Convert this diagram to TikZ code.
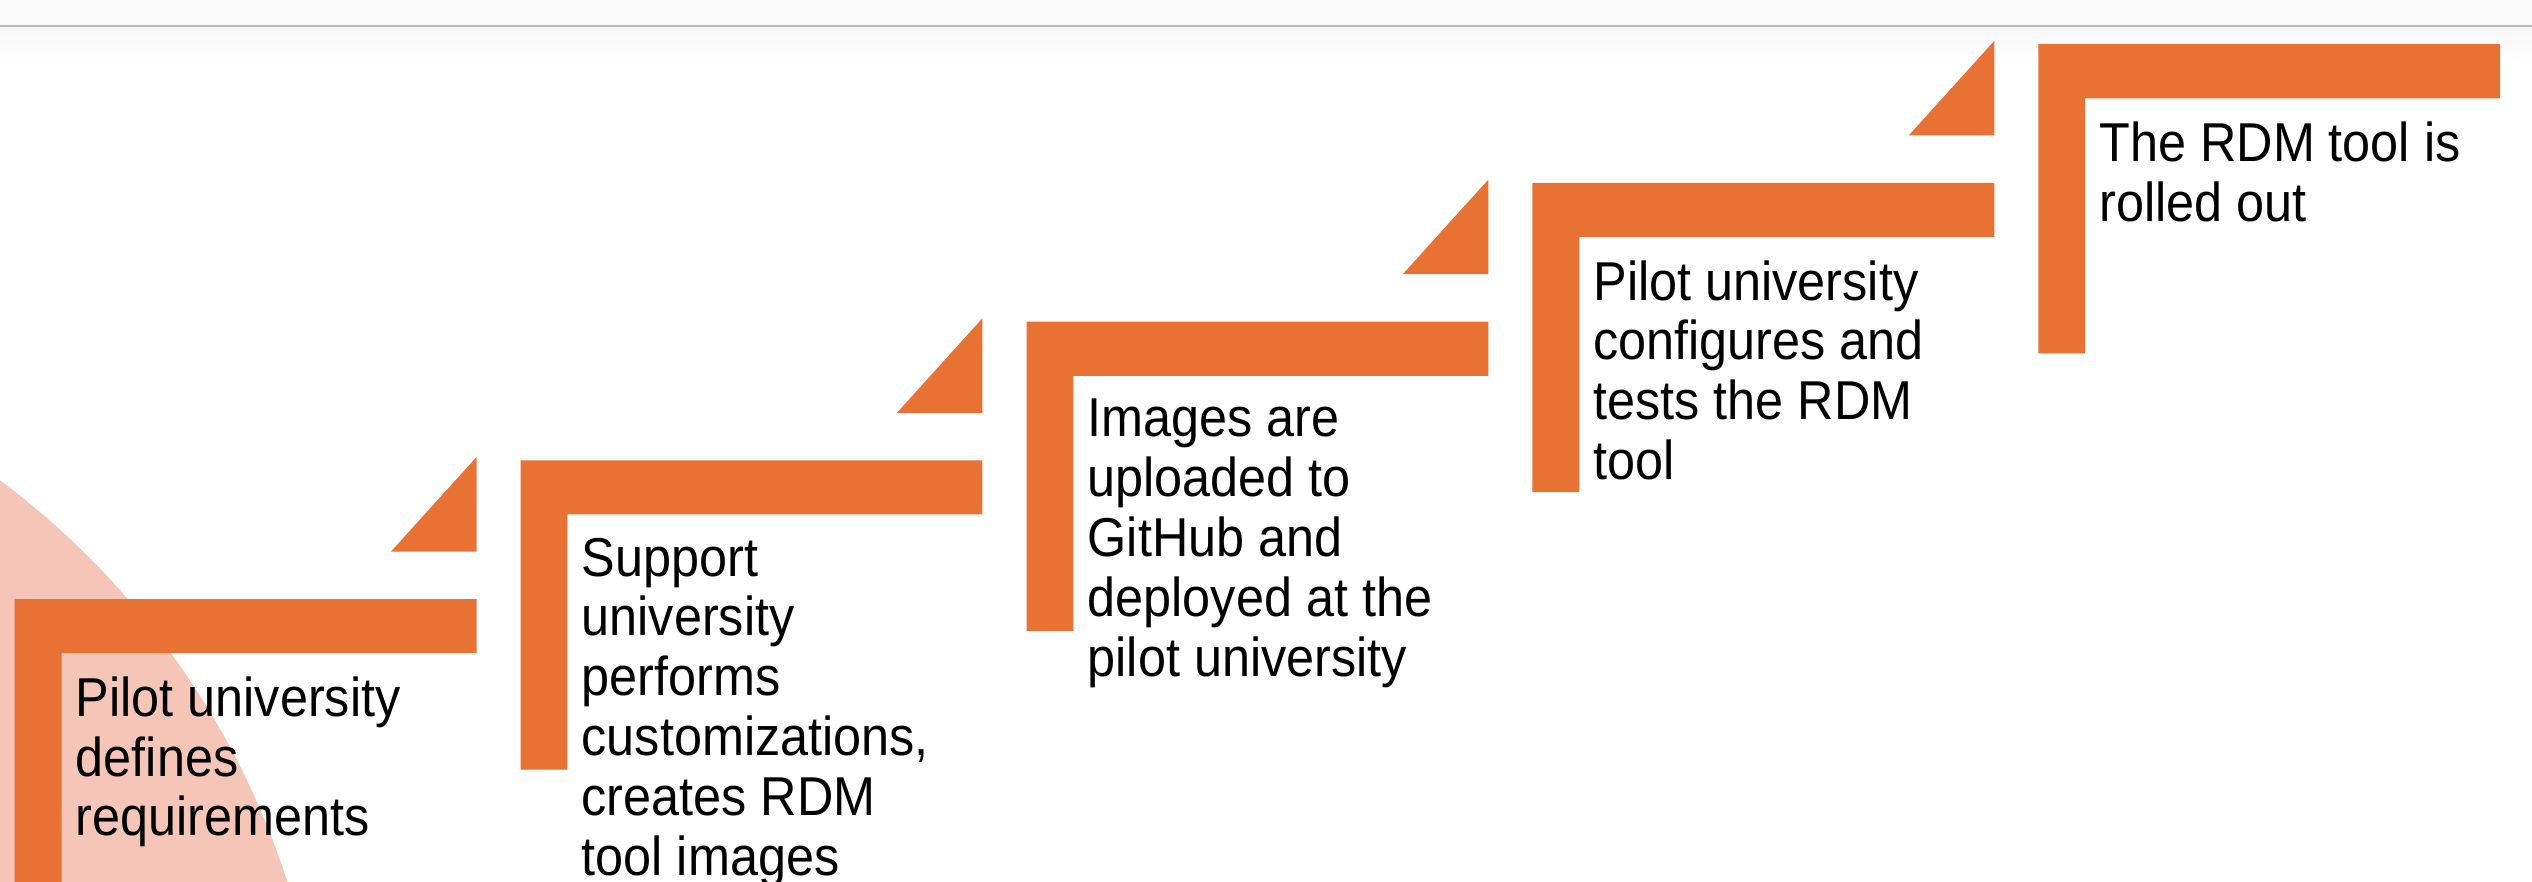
\documentclass[tikz,border=0pt]{standalone}
\usepackage{fontspec}
\setmainfont{Liberation Sans}[FakeStretch=0.92]
\usepackage{xcolor}
\usetikzlibrary{positioning}
\definecolor{steporange}{RGB}{232,114,52}
\definecolor{circlepink}{RGB}{245,197,184}
\tikzset{
  steptext/.style={anchor=north west, align=left, inner sep=0pt,
    font=\fontsize{19.3}{21.1}\selectfont},
}

\begin{document}
\begin{tikzpicture}[x=0.02cm, y=-0.02cm]
            \useasboundingbox (0,0) rectangle (1568,546);
            \clip (0,0) rectangle (1568,546);

            % the header strip
            \fill[gray!4] (0,0) rectangle (1568,16);
            \shade[top color=gray!7, bottom color=white] (0,16) rectangle (1568,38);
            \draw[gray!55, line width=0.03cm] (0,16) -- (1568,16);

            % the circle
            \fill[circlepink] (-300,700) circle [radius=502];

            % the steps
            \foreach \i/\txt in {1/{Pilot university\\defines\\requirements},
                                 2/{Support\\university\\performs\\customizations,\\creates RDM\\tool images},
                                 3/{Images are\\uploaded to\\GitHub and\\deployed at the\\pilot university},
                                 4/{Pilot university\\configures and\\tests the RDM\\tool},
                                 5/{The RDM tool is\\rolled out}} {
              \pgfmathsetmacro\xo{9.1+313.3*(\i-1)}
              \pgfmathsetmacro\yo{371-85.9*(\i-1)}
              \fill[steporange] (\xo,\yo) -- ++(286,0) -- ++(0,33.5) -- ++(-257,0)
                -- ++(0,158) -- ++(-29,0) -- cycle;
              \ifnum\i<5
                \fill[steporange] (\xo+286,\yo-88) -- (\xo+286,\yo-29.4) -- (\xo+233,\yo-29.4) -- cycle;
              \fi
              \node[steptext] (step\i) at (\xo+37.5,\yo+47.6) {\txt};
            }
        \end{tikzpicture}
\end{document}
